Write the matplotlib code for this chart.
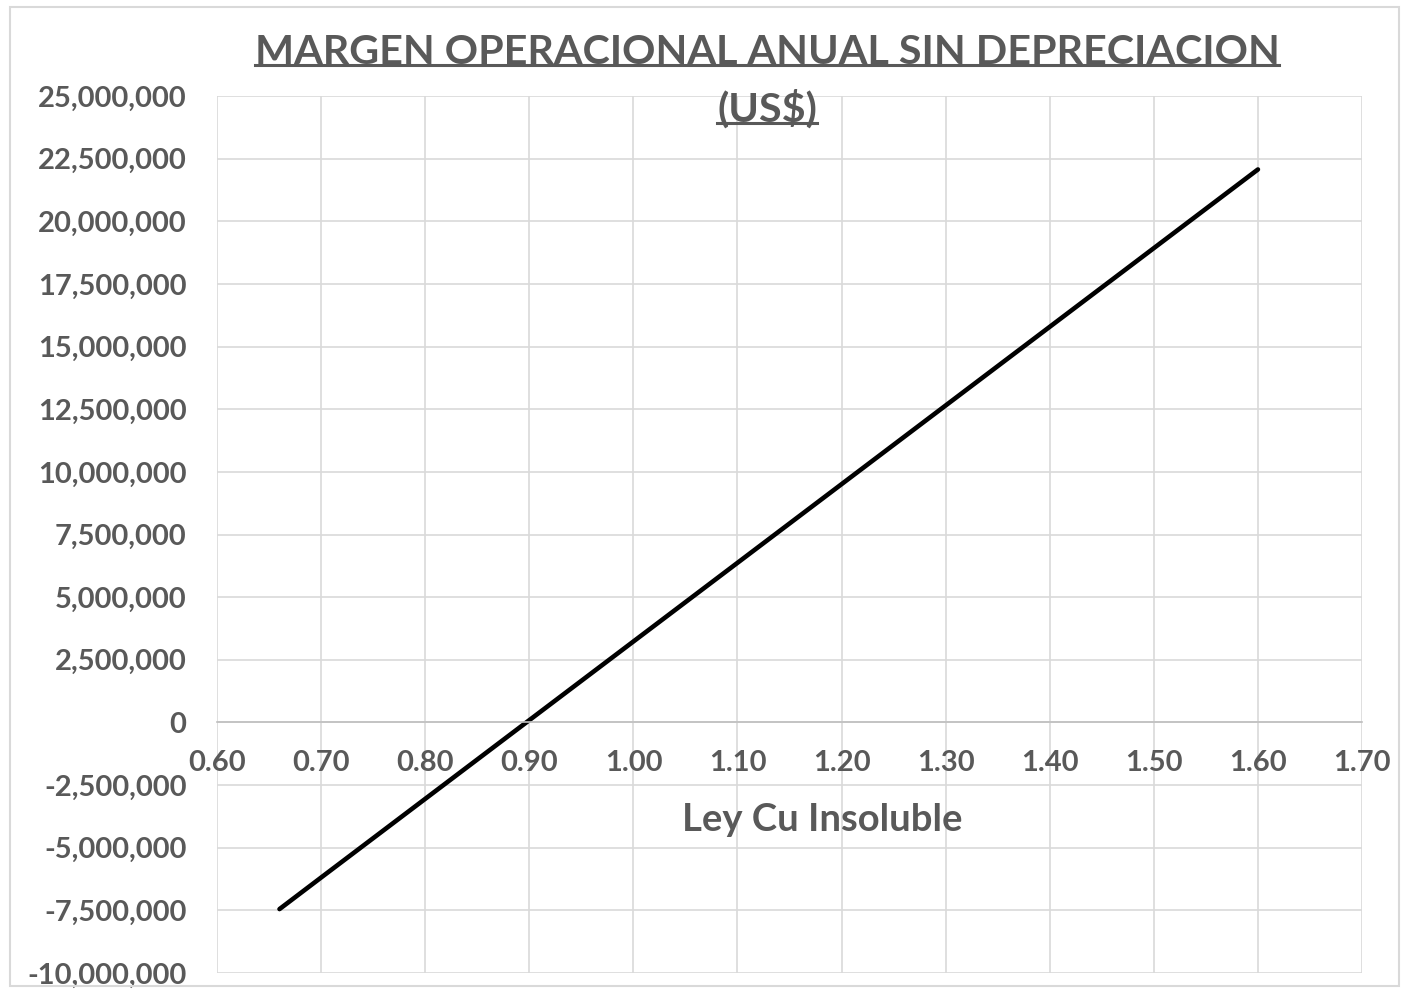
import matplotlib
matplotlib.use('Agg')
from matplotlib import pyplot as plt
from matplotlib.ticker import FuncFormatter, MultipleLocator
from matplotlib.patches import Rectangle

plt.rcParams['font.family'] = ['Lato', 'DejaVu Sans']

# data
ley_cu = [0.66, 0.70, 0.75, 0.80, 0.85, 0.90, 0.95, 1.00, 1.05, 1.10,
          1.15, 1.20, 1.25, 1.30, 1.35, 1.40, 1.45, 1.50, 1.55, 1.60]
margen = [-7450000, -6190000, -4620000, -3050000, -1480000, 90000,
          1660000, 3230000, 4800000, 6370000, 7940000, 9510000,
          11080000, 12650000, 14220000, 15790000, 17360000, 18930000,
          20500000, 22070000]

x_ticks = [0.60, 0.70, 0.80, 0.90, 1.00, 1.10, 1.20, 1.30, 1.40, 1.50, 1.60, 1.70]

gray_txt = '#595959'
grid_col = '#d9d9d9'

fig = plt.figure(figsize=(14.03, 9.89), dpi=100)
ax = fig.add_axes([0.1547, 0.0162, 0.9708 - 0.1547, 0.9029 - 0.0162])

ax.plot(ley_cu, margen, color='black', linewidth=3.3, solid_capstyle='round')

ax.set_xlim(0.60, 1.70)
ax.set_ylim(-10000000, 25000000)
ax.set_xticks(x_ticks)
ax.yaxis.set_major_locator(MultipleLocator(2500000))
ax.yaxis.set_major_formatter(FuncFormatter(lambda v, p: '{:,.0f}'.format(v)))
ax.xaxis.set_major_formatter(FuncFormatter(lambda v, p: '{:.2f}'.format(v)))

ax.grid(True, color=grid_col, linewidth=1.2)
ax.set_axisbelow(True)
for s in ['top', 'right', 'left']:
    ax.spines[s].set_visible(False)
ax.spines['bottom'].set_position(('data', 0))
ax.spines['bottom'].set_color('#bfbfbf')
ax.spines['bottom'].set_linewidth(1.2)

ax.tick_params(axis='both', length=0, labelsize=21, labelcolor=gray_txt)
ax.tick_params(axis='y', pad=22)
ax.tick_params(axis='x', pad=20)
for lbl in ax.get_xticklabels() + ax.get_yticklabels():
    lbl.set_fontweight('bold')

# x label sits inside the plot area below the axis
ax.text(1.181, -3900000, 'Ley Cu Insoluble', ha='center', va='center',
        fontsize=27.5, fontweight='bold', color=gray_txt)

# title with underline
t1 = fig.text(0.5467, 0.947, 'MARGEN OPERACIONAL ANUAL SIN DEPRECIACION',
              ha='center', va='center', fontsize=29.7, fontweight='bold', color=gray_txt)
t2 = fig.text(0.5467, 0.890, '(US$)', ha='center', va='center',
              fontsize=29.7, fontweight='bold', color=gray_txt)

fig.canvas.draw()
r = fig.canvas.get_renderer()
for t in (t1, t2):
    bb = t.get_window_extent(renderer=r).transformed(fig.transFigure.inverted())
    yline = bb.y0 + 0.006
    fig.add_artist(plt.Line2D([bb.x0, bb.x1], [yline, yline], transform=fig.transFigure,
                              color=gray_txt, linewidth=2.2))

# light chart border
fig.add_artist(Rectangle((0.007, 0.003), 0.99, 0.99, transform=fig.transFigure,
                         fill=False, edgecolor='#d9d9d9', linewidth=1.5))

plt.savefig('out.png', dpi=100)
